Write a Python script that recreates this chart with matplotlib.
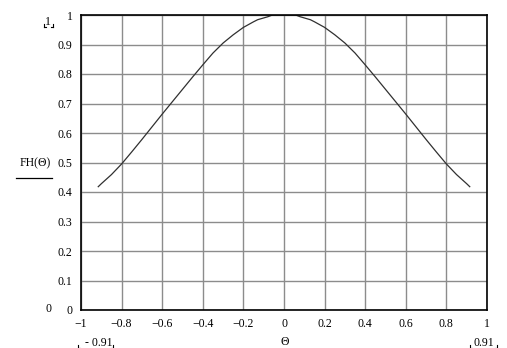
import matplotlib
matplotlib.use("Agg")
import matplotlib.pyplot as plt
from matplotlib.lines import Line2D

# === Data (curve is symmetric, clipped at 1 near 0) ===
theta_pos = [0.0, 0.057, 0.08, 0.1, 0.13, 0.15, 0.2, 0.25, 0.3, 0.35, 0.4, 0.45,
             0.5, 0.55, 0.6, 0.65, 0.7, 0.75, 0.8, 0.85, 0.9, 0.915]
fh_pos = [1.0, 1.0, 0.994, 0.99, 0.984, 0.977, 0.958, 0.933, 0.905, 0.871, 0.831, 0.79,
          0.748, 0.706, 0.664, 0.621, 0.578, 0.536, 0.495, 0.459, 0.428, 0.418]
theta = [-t for t in theta_pos[::-1]] + theta_pos[1:]
fh = fh_pos[::-1] + fh_pos[1:]

x_ticks = [-1, -0.8, -0.6, -0.4, -0.2, 0, 0.2, 0.4, 0.6, 0.8, 1]
x_labels = ["\u22121", "\u22120.8", "\u22120.6", "\u22120.4", "\u22120.2", "0",
            "0.2", "0.4", "0.6", "0.8", "1"]
y_ticks = [0, 0.1, 0.2, 0.3, 0.4, 0.5, 0.6, 0.7, 0.8, 0.9, 1]
y_labels = ["0", "0.1", "0.2", "0.3", "0.4", "0.5", "0.6", "0.7", "0.8", "0.9", "1"]

plt.rcParams['font.family'] = ['Liberation Serif', 'DejaVu Serif']

W, H = 507, 348
fig = plt.figure(figsize=(W / 100, H / 100), dpi=100)
ax = fig.add_axes([81 / W, 1 - 310 / H, (487 - 81) / W, (310 - 15) / H])

ax.plot(theta, fh, color='#303030', lw=0.9)
ax.set_xlim(-1, 1)
ax.set_ylim(0, 1)
ax.set_xticks(x_ticks)
ax.set_xticklabels(x_labels)
ax.set_yticks(y_ticks)
ax.set_yticklabels(y_labels)
ax.tick_params(length=0, labelsize=8.5, pad=6)
ax.grid(True, color='#8c8c8c', lw=1)
ax.set_axisbelow(True)
for s in ax.spines.values():
    s.set_color('black')
    s.set_linewidth(1.2)

# Mathcad style labels around the plot
fs = 8.5
fig.text(35 / W, 1 - 163 / H, "FH(\u0398)", ha='center', va='center', fontsize=fs)
fig.add_artist(Line2D([16 / W, 52 / W], [1 - 178 / H, 1 - 178 / H], color='black', lw=0.9))
fig.text(285 / W, 1 - 342 / H, "\u0398", ha='center', va='center', fontsize=fs)
fig.text(48 / W, 1 - 22 / H, "1", ha='center', va='center', fontsize=fs)
fig.text(48 / W, 1 - 309 / H, "0", ha='center', va='center', fontsize=fs)
fig.text(99 / W, 1 - 343 / H, "- 0.91", ha='center', va='center', fontsize=fs)
fig.text(484 / W, 1 - 343 / H, "0.91", ha='center', va='center', fontsize=fs)


def corners(x0, x1, yc):
    # little placeholder brackets around a limit value
    for x, d in ((x0, 1), (x1, -1)):
        fig.add_artist(Line2D([x / W, x / W], [1 - (yc + 2) / H, 1 - (yc + 5) / H], color='black', lw=0.8))
        fig.add_artist(Line2D([x / W, (x + 2 * d) / W], [1 - (yc + 5) / H, 1 - (yc + 5) / H], color='black', lw=0.8))


corners(44, 53, 22)
corners(78, 113, 343)
corners(470, 497, 343)

plt.savefig("out.png", dpi=100)
